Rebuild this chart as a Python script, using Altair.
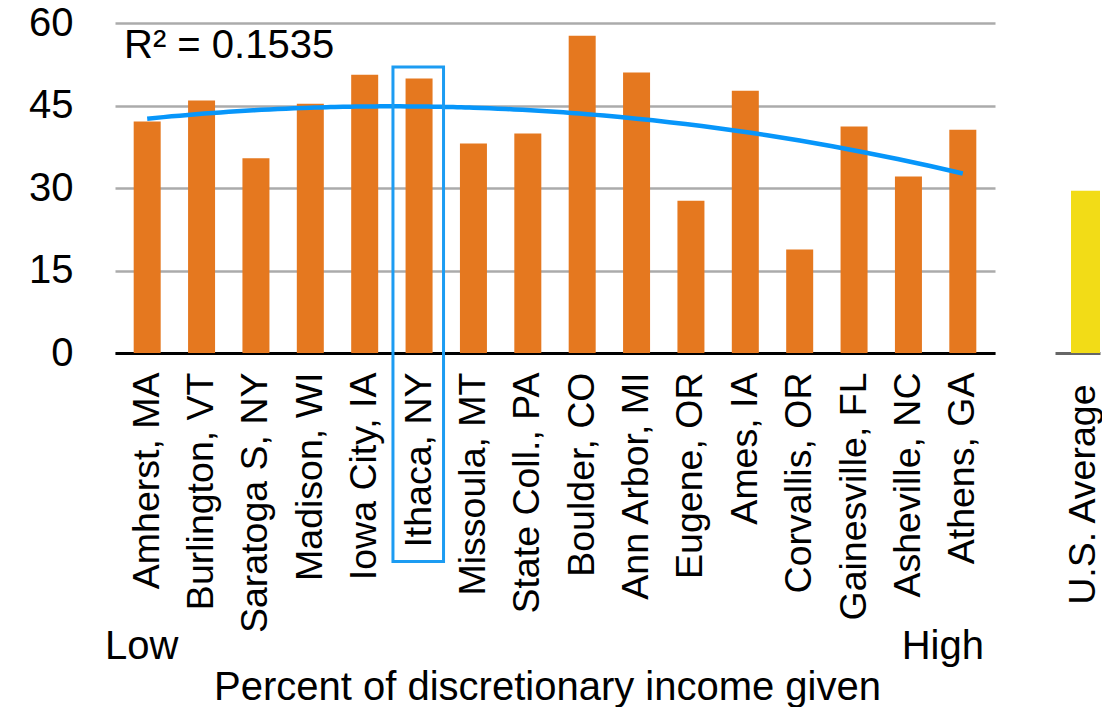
import altair as alt
import pandas as pd

# ---- data ----
cities = ["Amherst, MA", "Burlington, VT", "Saratoga S, NY", "Madison, WI", "Iowa City, IA",
          "Ithaca, NY", "Missoula, MT", "State Coll., PA", "Boulder, CO", "Ann Arbor, MI",
          "Eugene, OR", "Ames, IA", "Corvallis, OR", "Gainesville, FL", "Asheville, NC", "Athens, GA"]
values = [42.1, 45.9, 35.4, 45.3, 50.6, 49.9, 38.1, 39.9, 57.7, 51.0,
          27.7, 47.7, 18.8, 41.2, 32.1, 40.6]
us_labels = ["U.S. Average"]
us_values = [29.5]
y_ticks = [0, 15, 30, 45, 60]
r2_text = ["R\u00b2 = 0.1535"]
low_text = ["Low"]
high_text = ["High"]
x_title = "Percent of discretionary income given"
highlight = "Ithaca, NY"

# ---- styling ----
FONT = "Liberation Sans"
FS = 37.5      # rotated category labels
FH = 40        # horizontal texts
ORANGE = "#E5781F"
YELLOW = "#F2DC17"
BLUE = "#0796FA"
GRID = "#ABABAB"

n = len(cities)
df = pd.DataFrame({"city": cities, "value": values, "idx": list(range(n))})
df_us = pd.DataFrame({"label": us_labels, "value": us_values, "idx": [0]})

xs = alt.Scale(domain=[-0.5, n - 0.5], nice=False, zero=False)
ys = alt.Scale(domain=[y_ticks[0], y_ticks[-1]], nice=False)

label_expr = "[" + ",".join("'" + c + "'" for c in cities) + "][datum.value]"

x_axis = alt.Axis(values=list(range(n)), labelExpr=label_expr, labelAngle=-90,
                  labelFont=FONT, labelFontSize=FS, labelColor="black", labelPadding=19,
                  labelFlush=False, labelOverlap=False, labelBound=False, labelLimit=0,
                  ticks=False, grid=False, domainColor="black", domainWidth=3,
                  title=x_title, titleFont=FONT, titleFontSize=FH, titleFontWeight="normal",
                  titleColor="black", titleX=432, titleY=346.5, titleBaseline="alphabetic",
                  titleAlign="center", titleAnchor="middle", titleLimit=0)
y_axis = alt.Axis(values=y_ticks, labelFont=FONT, labelFontSize=FH, labelColor="black",
                  labelPadding=42, labelFlush=False, ticks=False, domain=False,
                  grid=True, gridColor=GRID, gridWidth=2.5, title=None)

base = alt.Chart(df)

bars = base.mark_bar(width=27, color=ORANGE).encode(
    x=alt.X("idx:Q", scale=xs, axis=x_axis),
    y=alt.Y("value:Q", scale=ys, axis=y_axis),
)

trend = base.transform_regression("idx", "value", method="poly", order=2).mark_line(
    color=BLUE, strokeWidth=4.5
).encode(x=alt.X("idx:Q", scale=xs), y=alt.Y("value:Q", scale=ys))

box = base.transform_filter(alt.datum.city == highlight).transform_calculate(
    x0="datum.idx - 0.48", x1="datum.idx + 0.45"
).mark_rect(fillOpacity=0, stroke="#1C9CF2", strokeWidth=3, clip=False).encode(
    x=alt.X("x0:Q", scale=xs), x2="x1:Q", y=alt.datum(52.0), y2=alt.datum(-37.9)
)

r2 = alt.Chart(pd.DataFrame({"t": r2_text})).mark_text(
    font=FONT, fontSize=FH, align="left", baseline="alphabetic", dx=4, dy=34.5, color="black"
).encode(x=alt.datum(-0.5), y=alt.datum(60), text="t:N")

low = alt.Chart(pd.DataFrame({"t": low_text})).mark_text(
    font=FONT, fontSize=FH, align="left", baseline="alphabetic", dx=-15, color="black"
).encode(x=alt.datum(-0.5), y=alt.datum(-55.7), text="t:N")

high = alt.Chart(pd.DataFrame({"t": high_text})).mark_text(
    font=FONT, fontSize=FH, align="right", baseline="alphabetic", dx=-6, color="black"
).encode(x=alt.datum(n - 0.5), y=alt.datum(-55.7), text="t:N")

panel1 = alt.layer(bars, trend, box, r2, low, high).properties(width=880, height=330)

# ---- U.S. average panel ----
xs2 = alt.Scale(domain=[-0.509, 0.309], nice=False, zero=False)
us_expr = "[" + ",".join("'" + c + "'" for c in us_labels) + "][datum.value]"
x_axis2 = alt.Axis(values=[0], labelExpr=us_expr, labelAngle=-90, labelFont=FONT,
                   labelFontSize=FS, labelColor="black", labelPadding=31, labelFlush=False,
                   labelBound=False, labelLimit=0, labelOverlap=False, ticks=False, grid=False,
                   domainColor="#666666", domainWidth=3, title=None)

panel2 = alt.Chart(df_us).transform_calculate(
    x0="datum.idx - 0.218", x1="datum.idx + 0.309"
).mark_bar(color=YELLOW).encode(
    x=alt.X("x0:Q", scale=xs2, axis=x_axis2),
    x2="x1:Q",
    y=alt.Y("value:Q", scale=ys, axis=None),
    y2=alt.datum(0),
).properties(width=45, height=330)

chart = alt.hconcat(panel1, panel2, spacing=60).properties(
    padding={"left": 20, "top": -5, "right": 0, "bottom": 0}
).configure_view(strokeWidth=0, stroke="transparent")

chart.save("out.html", embed_options={"renderer": "svg", "actions": False})
